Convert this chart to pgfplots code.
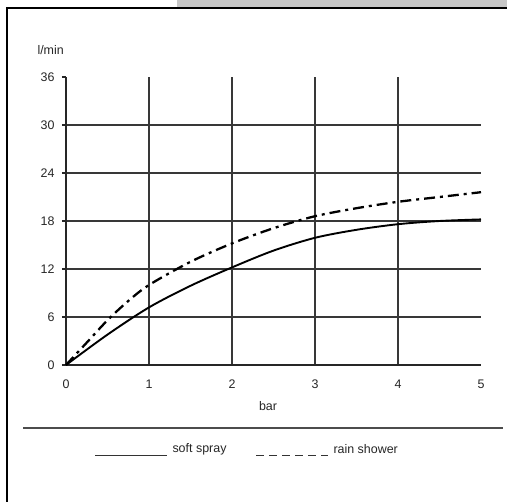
\documentclass[border=0pt]{standalone}
\usepackage{pgfplots}
\pgfplotsset{compat=1.18}
\usepackage{fontspec}
\setmainfont{Liberation Sans}

% flow rate vs pressure
\pgfplotstableread{
x   y
0   0
0.5 3.8
1   7.2
1.5 9.9
2   12.2
2.5 14.3
3   15.9
3.5 16.9
4   17.6
4.5 18.0
5   18.2
}\softspray

\pgfplotstableread{
x    y
0    0
0.25 2.8
0.5  5.6
0.75 8.0
1    10.0
1.5  12.9
2    15.2
2.5  17.1
3    18.6
3.5  19.6
4    20.4
4.5  21.0
5    21.6
}\rainshower

\tikzset{dashdot/.style={line width=2.3pt, dash pattern=on 11pt off 5pt on 3pt off 5pt}}
\newcommand{\lbl}{\fontsize{12.5}{14}\selectfont}

\begin{document}
\begin{tikzpicture}
\useasboundingbox (0,0) rectangle (507bp,502bp);
% frame and banner
\fill[black!22] (177bp,495bp) rectangle (507bp,502bp);
\draw[line width=2.2bp] (7bp,0) -- (7bp,494bp) -- (507bp,494bp);

\begin{axis}[
  at={(66bp,137bp)}, anchor=south west,
  scale only axis,
  width=415bp, height=288bp,
  xmin=0, xmax=5, ymin=0, ymax=36,
  axis lines=left,
  axis line style={-, line width=1.4pt, black!85},
  xtick={0,1,2,3,4}, extra x ticks={5},
  extra x tick style={grid=none},
  ytick={0,6,...,30}, extra y ticks={36},
  extra y tick style={grid=none},
  grid=major,
  major grid style={line width=1.3pt, black!78},
  tick align=outside,
  major tick length=4bp,
  tick style={line width=1.2pt, black!85},
  xtick style={draw=none},
  ticklabel style={font=\lbl, text=black!85},
  /pgf/number format/assume math mode=true,
  xticklabel style={yshift=-7bp},
  yticklabel style={xshift=-4bp},
  clip=false,
]
\addplot[black, line width=1.9pt, smooth] table {\softspray};
\addplot[black, dashdot, smooth] table {\rainshower};
\end{axis}

% axis titles
\node[font=\lbl, text=black!85] at (268bp,96bp) {bar};
\node[font=\lbl, text=black!85, anchor=west] at (34bp,452bp) {l/min};

% legend
\draw[line width=1.5bp, black!70] (23bp,74bp) -- (503bp,74bp);
\draw[line width=0.9pt, black!80] (95bp,47bp) -- (167bp,47bp);
\node[font=\lbl, text=black!85, anchor=west] at (169bp,53bp) {soft spray};
\draw[line width=0.9pt, black!80, dash pattern=on 8bp off 5bp] (256bp,47bp) -- (328bp,47bp);
\node[font=\lbl, text=black!85, anchor=west] at (330bp,53bp) {rain shower};
\end{tikzpicture}
\end{document}
